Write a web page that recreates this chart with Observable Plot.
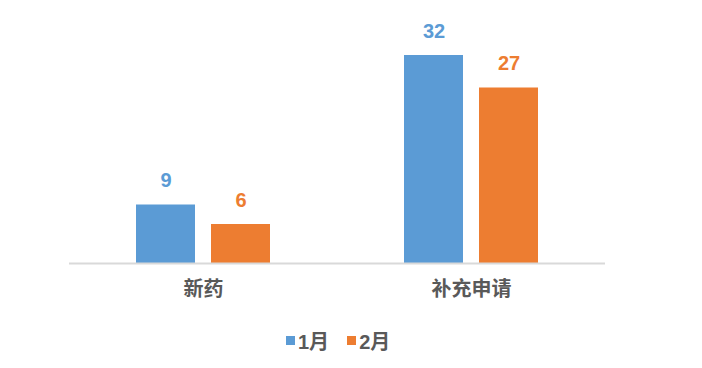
<!DOCTYPE html>
<html><head><meta charset="utf-8">
<script src="https://cdn.jsdelivr.net/npm/d3@7"></script>
<script src="https://cdn.jsdelivr.net/npm/@observablehq/plot@0.6"></script>
<style>
body{margin:0;background:#fff;font-family:"Liberation Sans","Noto Sans CJK SC",sans-serif;}
#wrap{position:relative;width:702px;height:368px;}
#legend{position:absolute;left:286px;top:326px;display:flex;align-items:center;font-size:20px;font-weight:bold;color:#595959;font-family:"Liberation Sans","Noto Sans CJK SC",sans-serif;}
#legend .sw{display:inline-block;width:9px;height:9px;margin-right:3px;}
#legend .it{display:flex;align-items:center;margin-right:18px;}
</style></head>
<body><div id="wrap"><div id="chart"></div><div id="legend"></div></div>
<script>
const categories = ["新药", "补充申请"];
const months = ["1月", "2月"];
const values1 = [9, 32];
const values2 = [6, 27];
const colors = ["#5B9BD5", "#ED7D31"];

const data = [];
categories.forEach((c, i) => {
  data.push({cat: c, month: months[0], value: values1[i]});
  data.push({cat: c, month: months[1], value: values2[i]});
});

const chart = Plot.plot({
  width: 702,
  height: 318,
  marginLeft: 68,
  marginRight: 97,
  marginTop: 55,
  marginBottom: 55,
  style: {fontFamily: '"Liberation Sans","Noto Sans CJK SC",sans-serif', background: "transparent"},
  fx: {domain: categories, padding: 0, label: null},
  x: {domain: months, paddingInner: 0.21, paddingOuter: 0.87, axis: null},
  y: {domain: [0, 32], axis: null},
  color: {domain: months, range: colors},
  marks: [
    Plot.barY(data, {fx: "cat", x: "month", y: "value", fill: "month"}),
    Plot.ruleY([0], {stroke: "#d9d9d9", strokeWidth: 2}),
    Plot.text(data, {fx: "cat", x: "month", y: "value", text: d => String(d.value), fill: "month", dy: -24, fontSize: 20, fontWeight: "bold"}),
    Plot.axisFx({anchor: "bottom", tickSize: 0, tickPadding: 18, fontSize: 20, fontWeight: "bold", fill: "#595959", label: null})
  ]
});
document.getElementById("chart").appendChild(chart);

const lg = document.getElementById("legend");
months.forEach((m, i) => {
  const it = document.createElement("div");
  it.className = "it";
  const sw = document.createElement("span");
  sw.className = "sw";
  sw.style.background = colors[i];
  it.appendChild(sw);
  it.appendChild(document.createTextNode(m));
  lg.appendChild(it);
});
</script></body></html>
